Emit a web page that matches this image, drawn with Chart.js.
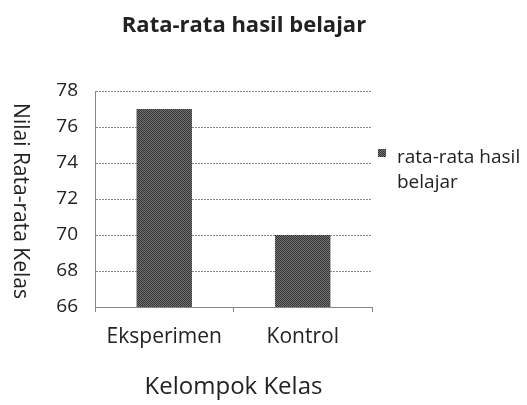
<!DOCTYPE html>
<html><head><meta charset="utf-8">
<script src="https://cdn.jsdelivr.net/npm/chart.js@4"></script>
<style>html,body{margin:0;padding:0;background:#fff}#wrap{width:527px;height:405px}</style>
</head><body><div id="wrap"><canvas id="c" width="527" height="405"></canvas></div>
<script>
const categories = ['Eksperimen', 'Kontrol'];
const seriesName = 'rata-rata hasil belajar';
const values = [77, 70];
const yTicks = [66, 68, 70, 72, 74, 76, 78];
const chartTitle = 'Rata-rata hasil belajar';
const xTitle = 'Kelompok Kelas';
const yTitle = 'Nilai Rata-rata Kelas';
const legendLines = ['rata-rata hasil', 'belajar'];

const FONT = '"Open Sans", Lato, sans-serif';
const TXT = '#222';

function makePattern() {
  const p = document.createElement('canvas');
  p.width = 2; p.height = 2;
  const g = p.getContext('2d');
  g.fillStyle = '#7a7a7a'; g.fillRect(0, 0, 2, 2);
  g.fillStyle = '#2e2e2e'; g.fillRect(0, 0, 1, 1); g.fillRect(1, 1, 1, 1);
  return document.getElementById('c').getContext('2d').createPattern(p, 'repeat');
}
const barFill = makePattern();

const extraText = {
  id: 'extraText',
  afterDraw(chart) {
    const ctx = chart.ctx;
    ctx.save();
    ctx.fillStyle = TXT;
    // title
    ctx.font = 'bold 22px ' + FONT;
    ctx.textAlign = 'center'; ctx.textBaseline = 'alphabetic';
    ctx.fillText(chartTitle, 244, 32);
    // y axis title (reads top to bottom)
    ctx.save();
    ctx.translate(20, 201);
    ctx.rotate(Math.PI / 2);
    ctx.font = '21px ' + FONT;
    ctx.textBaseline = 'middle';
    ctx.fillText(yTitle, 0, 0);
    ctx.restore();
    // legend
    ctx.fillStyle = barFill;
    ctx.fillRect(378, 149, 8, 8);
    ctx.fillStyle = TXT;
    ctx.font = '19px ' + FONT;
    ctx.textAlign = 'left';
    ctx.textBaseline = 'alphabetic';
    ctx.fillText(legendLines[0], 397, 163);
    ctx.fillText(legendLines[1], 397, 188);
    ctx.restore();
  }
};

new Chart(document.getElementById('c'), {
  type: 'bar',
  data: {
    labels: categories,
    datasets: [{
      label: seriesName,
      data: values,
      backgroundColor: barFill,
      borderWidth: 0,
      categoryPercentage: 0.8,
      barPercentage: 0.5
    }]
  },
  options: {
    responsive: false,
    animation: false,
    layout: { padding: { top: 91, right: 155, left: 0, bottom: 0 } },
    plugins: { legend: { display: false }, title: { display: false }, tooltip: { enabled: false } },
    scales: {
      x: {
        grid: { display: true, drawOnChartArea: false, drawTicks: true, tickLength: 5, color: '#888', offset: true },
        border: { display: true, color: '#888', dash: [2, 1] },
        ticks: { color: TXT, font: { family: FONT, size: 21 }, padding: 12 },
        title: { display: true, text: xTitle, color: TXT, font: { family: FONT, size: 24 }, padding: { top: 0, bottom: 3 } },
        afterFit(s) { s.height = 98; }
      },
      y: {
        min: 66, max: 78,
        afterBuildTicks(s) { s.ticks = yTicks.map(v => ({ value: v })); },
        grid: { color: '#888', drawTicks: false },
        border: { display: true, color: '#888', dash: [2, 1] },
        ticks: { color: TXT, font: { family: FONT, size: 19 }, padding: 17 },
        afterFit(s) { s.width = 95; }
      }
    }
  },
  plugins: [extraText]
});
</script>
</body></html>
